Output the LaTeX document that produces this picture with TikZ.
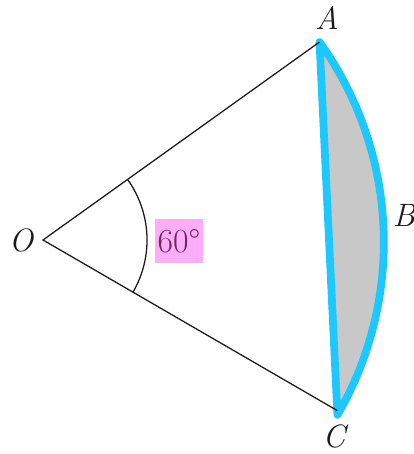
\documentclass[tikz,border=0pt]{standalone}
\usepackage{tikz}
\usepackage{xcolor}
\usetikzlibrary{calc,positioning}
\definecolor{cCyan}{HTML}{1CC8FF}
\definecolor{cGray}{HTML}{C8C8C9}
\definecolor{cPink}{HTML}{FFADF8}
\definecolor{cPlum}{HTML}{6A2A66}
\definecolor{cInk}{HTML}{1A1A1A}
\tikzset{
  edge/.style ={cInk,line width=0.9pt},
  seg/.style  ={draw=cCyan,line width=5.5pt,line join=round,line cap=round,fill=cGray},
  lbl/.style  ={font=\fontsize{23}{26}\selectfont\itshape,text=cInk,inner sep=0pt},
  hl/.style   ={fill=cPink,text=cPlum,inner xsep=2pt,inner ysep=7pt,
                font=\fontsize{24}{27}\selectfont},
}
\begin{document}
\begin{tikzpicture}[x=0.025cm,y=0.025cm]
\useasboundingbox (0,0) rectangle (414,454);
% main points of the sector
\coordinate (O) at (43,214);
\coordinate (A) at ($(O)+(35.6:8.5cm)$);
\coordinate (C) at ($(O)+(-30.1:8.5cm)$);
\coordinate (a1) at ($(O)+(-30.1:2.6cm)$);

% shaded segment between chord and arc
\path[seg] (A) arc[start angle=35.6,end angle=-30.1,radius=8.6cm] -- cycle;

\draw[edge] (A) -- (O) -- (C);
\draw[edge] (a1) arc[start angle=-30.1,end angle=35.6,radius=2.6cm];

\node[lbl] (lA) at (327,436) {A};
\node[lbl] (lB) at (404,239) {B};
\node[lbl] (lC) at (334,18) {C};
\node[lbl] (lO) at (21,214) {O};
\node[hl]  (ang) at (179,213) {60\textdegree};
\end{tikzpicture}
\end{document}
